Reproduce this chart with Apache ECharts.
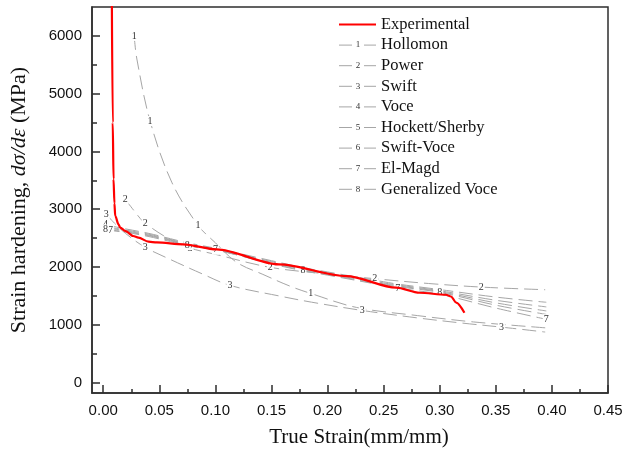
<!DOCTYPE html>
<html>
<head>
<meta charset="utf-8">
<script src="https://cdn.jsdelivr.net/npm/echarts@6/dist/echarts.min.js"></script>
<style>
  html, body { margin: 0; padding: 0; background: #fff; }
  #chart { width: 625px; height: 450px; }
</style>
</head>
<body>
<div id="chart"></div>
<script>
  // experimental curve (red)
  var expStrain = [0.0077, 0.0085, 0.0092, 0.0100, 0.0107, 0.0136, 0.0151, 0.0200, 0.0267, 0.0314, 0.0403, 0.0478, 0.0714, 0.101, 0.1566, 0.2168, 0.2613, 0.282, 0.3056, 0.310, 0.3147, 0.322];
  var expHard   = [6600, 4500, 3520, 3100, 2884, 2740, 2683, 2620, 2537, 2509, 2440, 2425, 2393, 2306, 2046, 1843, 1642, 1555, 1520, 1490, 1385, 1208];

  // 1 Hollomon
  var hollStrain = [0.0276, 0.030, 0.0418, 0.0611, 0.0845, 0.100, 0.119, 0.1423, 0.1664, 0.185, 0.226, 0.280, 0.330, 0.396];
  var hollHard   = [6000, 5600, 4526, 3468, 2722, 2420, 2081, 1873, 1670, 1543, 1300, 1160, 1050, 945];
  var hollMarks  = [0, 2, 4, 9];

  // 2 Power
  var powStrain = [0.0196, 0.033, 0.0374, 0.0567, 0.0774, 0.100, 0.149, 0.200, 0.242, 0.290, 0.337, 0.394];
  var powHard   = [3173, 2840, 2757, 2510, 2330, 2220, 1994, 1880, 1798, 1715, 1653, 1607];
  var powMarks  = [0, 2, 4, 6, 8, 10];

  // 3 Swift
  var swiftStrain = [0.0027, 0.010, 0.020, 0.0374, 0.0596, 0.0893, 0.113, 0.1575, 0.1857, 0.231, 0.280, 0.320, 0.355, 0.394];
  var swiftHard   = [2913, 2760, 2580, 2341, 2133, 1873, 1682, 1497, 1392, 1248, 1120, 1030, 960, 875];
  var swiftMarks  = [0, 3, 6, 9, 12];

  // 4-8 share one strain grid
  var bundleStrain = [0.002, 0.020, 0.040, 0.060, 0.075, 0.100, 0.150, 0.178, 0.200, 0.250, 0.2625, 0.300, 0.350, 0.395];
  var voceHard     = [2730, 2660, 2585, 2490, 2420, 2325, 2110, 1990, 1915, 1745, 1705, 1610, 1480, 1390];
  var hockettHard  = [2700, 2640, 2570, 2475, 2405, 2310, 2095, 1975, 1900, 1725, 1690, 1590, 1425, 1310];
  var swVoceHard   = [2680, 2625, 2555, 2465, 2395, 2300, 2080, 1960, 1885, 1710, 1675, 1575, 1380, 1240];
  var elMagdHard   = [2640, 2600, 2530, 2440, 2365, 2300, 2055, 1935, 1860, 1680, 1635, 1530, 1290, 1095];
  var genVoceHard  = [2650, 2610, 2545, 2455, 2375, 2295, 2065, 1945, 1870, 1695, 1660, 1562, 1340, 1180];
  var voceMarks    = [0];
  var elMagdMarks  = [0, 5, 10, 13];
  var genVoceMarks = [0, 4, 7, 11];

  var legendNames = ['Experimental', 'Hollomon', 'Power', 'Swift', 'Voce', 'Hockett/Sherby', 'Swift-Voce', 'El-Magd', 'Generalized Voce'];

  var serif = 'Liberation Serif';
  var sans = 'Liberation Sans';
  var gray = '#a6a6a6';
  var axisColor = '#2e2e2e';

  // plot frame: x from -0.01 to 0.45, y from -180 to 6500
  var xMin = -0.01, xMax = 0.45, yMin = -180, yMax = 6500;
  var gl = 92, gr = 17, gt = 7, gb = 57;
  var pxPerX = (625 - gl - gr) / (xMax - xMin);
  var pxPerY = (450 - gt - gb) / (yMax - yMin);

  function modelSeries (name, tag, xs, ys, marks, firstOffset) {
    return {
      name: name,
      type: 'line',
      xAxisIndex: 0,
      yAxisIndex: 0,
      data: xs.map(function (x, i) {
        var item = {value: [x, ys[i]]};
        if (marks.indexOf(i) >= 0) {
          item.label = {show: true};
          if (i === 0 && firstOffset) item.label.offset = firstOffset;
        }
        return item;
      }),
      smooth: 0.35,
      showSymbol: true,
      symbol: 'circle',
      symbolSize: 1,
      itemStyle: {color: 'rgba(0,0,0,0)'},
      lineStyle: {color: gray, width: 1, type: [14, 6]},
      label: {
        show: false, position: 'inside', formatter: tag,
        fontFamily: serif, fontSize: 10, color: '#333',
        backgroundColor: '#fff', padding: [0, 1]
      },
      emphasis: {disabled: true},
      silent: true
    };
  }

  // legend drawn by hand: line - number - line, then the name
  var legendEls = [];
  legendNames.forEach(function (n, i) {
    var y = 24.5 + i * 20.6;
    if (i === 0) {
      legendEls.push({type: 'line', shape: {x1: 339, y1: y, x2: 376, y2: y}, style: {stroke: '#ff0000', lineWidth: 2.2}});
    } else {
      legendEls.push({type: 'line', shape: {x1: 339, y1: y, x2: 352, y2: y}, style: {stroke: gray, lineWidth: 1}});
      legendEls.push({type: 'line', shape: {x1: 364, y1: y, x2: 376, y2: y}, style: {stroke: gray, lineWidth: 1}});
      legendEls.push({type: 'text', x: 358, y: y, style: {text: String(i), fontFamily: serif, fontSize: 9, fill: '#333', align: 'center', verticalAlign: 'middle'}});
    }
    legendEls.push({type: 'text', x: 381, y: y, style: {text: n, fontFamily: serif, fontSize: 16.5, fill: '#111', align: 'left', verticalAlign: 'middle'}});
  });

  var tickLine = {color: axisColor, width: 1.5};
  var chart = echarts.init(document.getElementById('chart'));
  var option = {
    animation: false,
    backgroundColor: '#fff',
    grid: [
      // data grid with the frame
      {left: gl, right: gr, top: gt, bottom: gb, show: true, borderColor: axisColor, borderWidth: 1.5, outerBoundsMode: 'none'},
      // y ticks/labels: 0..6000 region of the same frame
      {left: gl, right: gr, top: gt + (yMax - 6000) * pxPerY, bottom: gb + (0 - yMin) * pxPerY, outerBoundsMode: 'none'},
      // x ticks/labels: 0..0.45 region of the same frame
      {left: gl + (0 - xMin) * pxPerX, right: gr + (xMax - 0.45) * pxPerX, top: gt, bottom: gb, outerBoundsMode: 'none'}
    ],
    xAxis: [{
      gridIndex: 0, type: 'value', min: xMin, max: xMax,
      name: 'True Strain(mm/mm)', nameLocation: 'middle', nameGap: 34,
      nameTextStyle: {fontFamily: serif, fontSize: 21, color: '#111', padding: [0, 0, 0, 18]},
      axisLine: {show: true, onZero: false, lineStyle: tickLine},
      axisTick: {show: false}, axisLabel: {show: false}, splitLine: {show: false}
    }, {
      gridIndex: 1, type: 'value', show: false, min: 0, max: 1
    }, {
      gridIndex: 2, type: 'value', min: 0, max: 0.45, interval: 0.05, position: 'bottom',
      axisLine: {show: false, onZero: false},
      axisTick: {show: true, inside: true, length: 8, lineStyle: tickLine},
      minorTick: {show: true, splitNumber: 2, length: 4, lineStyle: tickLine},
      axisLabel: {show: true, margin: 10, fontFamily: sans, fontSize: 15, color: '#111',
        formatter: function (v) { return v.toFixed(2); }},
      splitLine: {show: false}
    }],
    yAxis: [{
      gridIndex: 0, type: 'value', min: yMin, max: yMax,
      name: '{a|Strain hardening, }{b|dσ/dε}{a| (MPa)}', nameLocation: 'middle', nameGap: 62, nameRotate: 90,
      nameTextStyle: {
        fontFamily: serif, fontSize: 22, color: '#111',
        rich: {
          a: {fontFamily: serif, fontSize: 22, color: '#111'},
          b: {fontFamily: serif, fontSize: 22, color: '#111', fontStyle: 'italic'}
        }
      },
      axisLine: {show: true, onZero: false, lineStyle: tickLine},
      axisTick: {show: false}, axisLabel: {show: false}, splitLine: {show: false}
    }, {
      gridIndex: 1, type: 'value', min: 0, max: 6000, interval: 1000, position: 'left',
      axisLine: {show: false, onZero: false},
      axisTick: {show: true, inside: true, length: 8, lineStyle: tickLine},
      minorTick: {show: true, splitNumber: 2, length: 5, lineStyle: tickLine},
      axisLabel: {show: true, margin: 10, fontFamily: sans, fontSize: 15, color: '#111',
        formatter: function (v) { return String(v); }},
      splitLine: {show: false}
    }, {
      gridIndex: 2, type: 'value', show: false, min: 0, max: 1
    }],
    graphic: legendEls,
    series: [
      modelSeries('Hollomon', '1', hollStrain, hollHard, hollMarks),
      modelSeries('Power', '2', powStrain, powHard, powMarks),
      modelSeries('Swift', '3', swiftStrain, swiftHard, swiftMarks),
      modelSeries('Voce', '4', bundleStrain, voceHard, voceMarks),
      modelSeries('Hockett/Sherby', '5', bundleStrain, hockettHard, []),
      modelSeries('Swift-Voce', '6', bundleStrain, swVoceHard, []),
      modelSeries('El-Magd', '7', bundleStrain, elMagdHard, elMagdMarks, [5, 0]),
      modelSeries('Generalized Voce', '8', bundleStrain, genVoceHard, genVoceMarks),
      {
        name: 'Experimental',
        type: 'line',
        xAxisIndex: 0,
        yAxisIndex: 0,
        data: expStrain.map(function (x, i) { return [x, expHard[i]]; }),
        smooth: 0.3,
        smoothMonotone: 'x',
        showSymbol: false,
        lineStyle: {color: '#ff0000', width: 2.2},
        emphasis: {disabled: true},
        silent: true,
        z: 5
      }
    ]
  };
  chart.setOption(option);
</script>
</body>
</html>
